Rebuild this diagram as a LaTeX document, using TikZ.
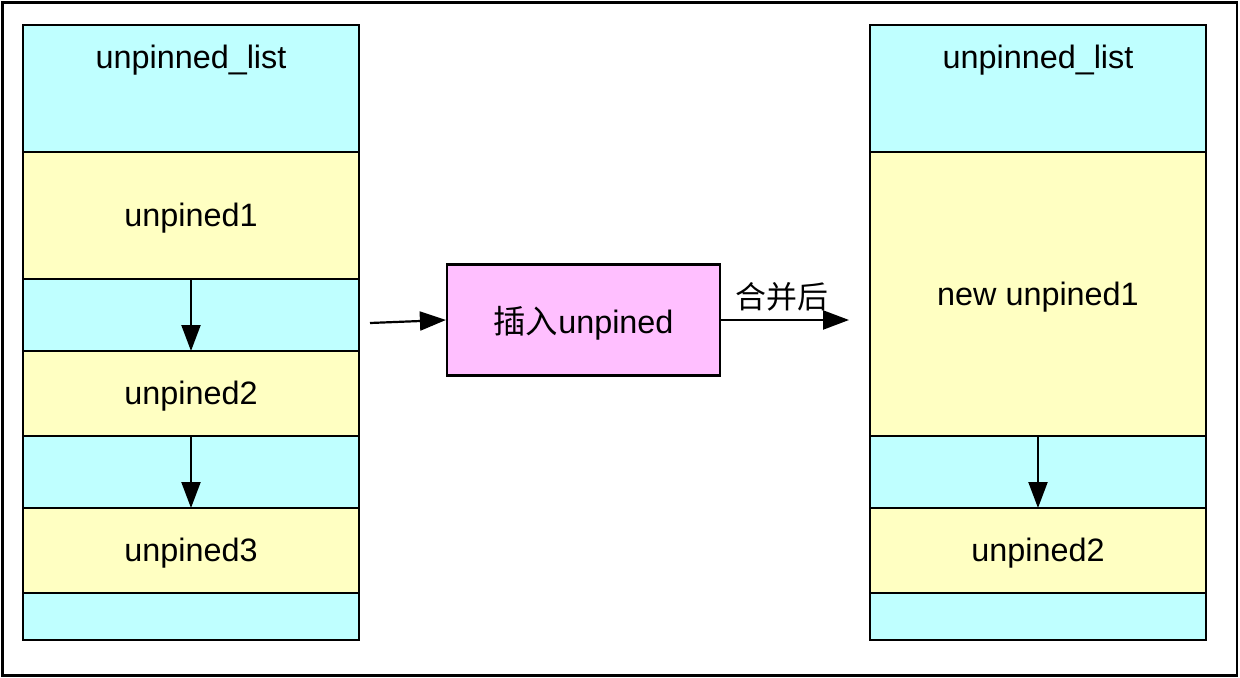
\documentclass[tikz,border=0pt]{standalone}
\usepackage{fontspec}
\setmainfont{Liberation Sans}
\newfontfamily\cjk{Noto Sans CJK SC}
\usetikzlibrary{arrows.meta}
\definecolor{cellcyan}{HTML}{BFFFFF}
\definecolor{cellyellow}{HTML}{FFFFC2}
\definecolor{cellpink}{HTML}{FFBFFF}
\tikzset{
  cell/.style={draw=black, line width=2.2bp, inner sep=0pt, outer sep=0pt, minimum width=336bp},
  cyancell/.style={cell, fill=cellcyan},
  yellowcell/.style={cell, fill=cellyellow},
  lbl/.style={font=\fontsize{32.5}{36}\selectfont, inner sep=0pt},
  conn/.style={line width=2.2bp, -{Triangle[length=26bp,width=19bp]}}
}
\begin{document}
\begin{tikzpicture}[x=1bp,y=-1bp]
\useasboundingbox (0,0) rectangle (1240,678);
\draw[line width=2.5bp] (2.5,2.5) rectangle (1237,675.5);
% left column
\node[cyancell, minimum height=127bp] (l0) at (191,88.5) {};
\node[yellowcell, minimum height=127bp] (l1) at (191,215.5) {};
\node[cyancell, minimum height=72bp] (l1p) at (191,315) {};
\node[yellowcell, minimum height=85bp] (l2) at (191,393.5) {};
\node[cyancell, minimum height=72bp] (l2p) at (191,472) {};
\node[yellowcell, minimum height=85bp] (l3) at (191,550.5) {};
\node[cyancell, minimum height=47bp] (l3p) at (191,616.5) {};
\node[lbl] (tl0) at (191,60) {unpinned\_list};
\node[lbl] (tl1) at (191,218) {unpined1};
\node[lbl] (tl2) at (191,396) {unpined2};
\node[lbl] (tl3) at (191,553) {unpined3};
\draw[conn] (l1.south) -- (l2.north);
\draw[conn] (l2.south) -- (l3.north);
% right column
\node[cyancell, minimum height=127bp] (r0) at (1038,88.5) {};
\node[yellowcell, minimum height=284bp] (r1) at (1038,294) {};
\node[cyancell, minimum height=72bp] (r1p) at (1038,472) {};
\node[yellowcell, minimum height=85bp] (r2) at (1038,550.5) {};
\node[cyancell, minimum height=47bp] (r2p) at (1038,616.5) {};
\node[lbl] (tr0) at (1038,60) {unpinned\_list};
\node[lbl] (tr1) at (1038,297) {new unpined1};
\node[lbl] (tr2) at (1038,553) {unpined2};
\draw[conn] (r1.south) -- (r2.north);
% middle
\node[draw=black, line width=2.2bp, fill=cellpink, minimum width=273bp, minimum height=111bp, inner sep=0pt] (ins) at (583.5,320) {};
\node[lbl] (tins) at (583.5,323) {{\cjk 插入}unpined};
\coordinate (instart) at (370,323);
\coordinate (outend) at (849,320);
\draw[conn] (instart) -- (ins.west);
\draw[conn] (ins.east) -- (outend);
\node[lbl, font=\cjk\fontsize{31}{36}\selectfont] (merged) at (782,297) {合并后};
\end{tikzpicture}
\end{document}
